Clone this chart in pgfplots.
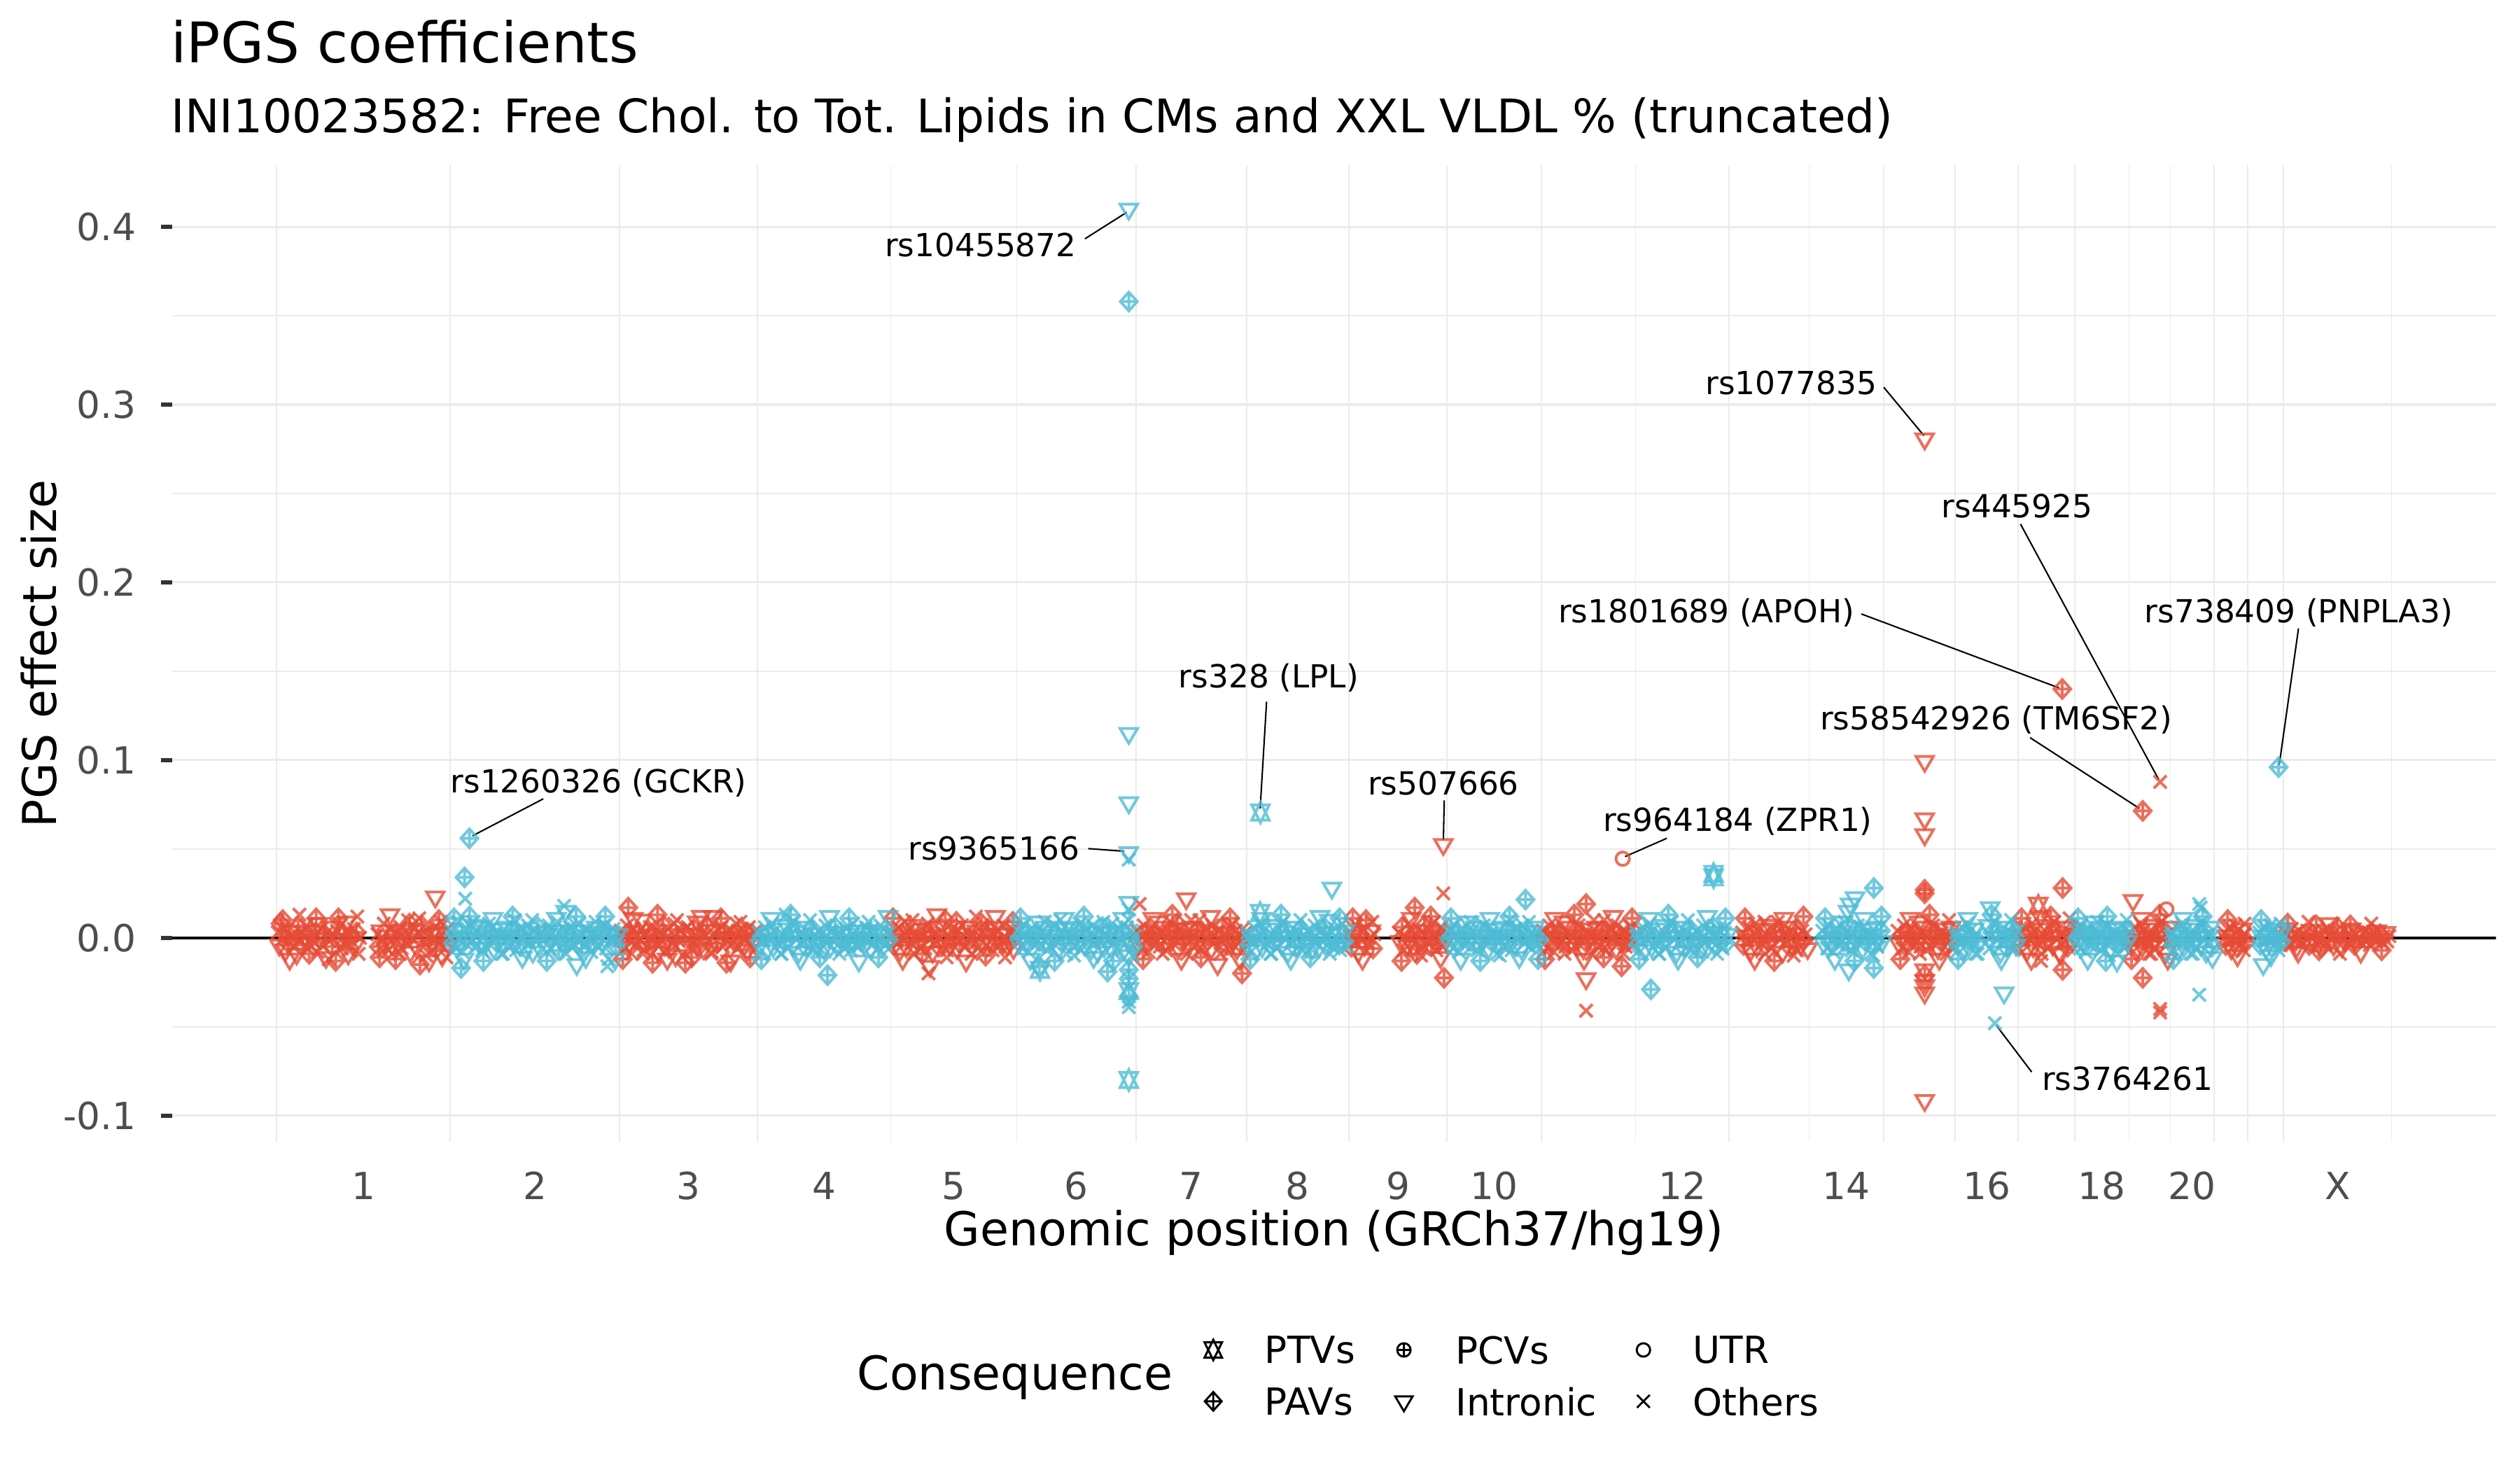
\documentclass[border=0pt]{standalone}
\usepackage{fontspec}
\setmainfont{DejaVu Sans}
\usepackage{pgfplots}
\pgfplotsset{compat=1.18}
\definecolor{nred}{HTML}{E64B35}
\definecolor{ncyan}{HTML}{4DBBD5}
\definecolor{gridc}{HTML}{EBEBEB}
\definecolor{tickc}{HTML}{4D4D4D}
\definecolor{tickmk}{HTML}{333333}
% ggplot-like shapes
\pgfdeclareplotmark{ptv}{%
  \pgfpathmoveto{\pgfqpoint{0bp}{-3.5bp}}\pgfpathlineto{\pgfqpoint{3.0bp}{2.6bp}}\pgfpathlineto{\pgfqpoint{-3.0bp}{2.6bp}}\pgfpathclose
  \pgfpathmoveto{\pgfqpoint{0bp}{3.5bp}}\pgfpathlineto{\pgfqpoint{3.0bp}{-2.6bp}}\pgfpathlineto{\pgfqpoint{-3.0bp}{-2.6bp}}\pgfpathclose
  \pgfusepathqstroke}
\pgfdeclareplotmark{pav}{%
  \pgfpathmoveto{\pgfqpoint{0bp}{3.2bp}}\pgfpathlineto{\pgfqpoint{2.9bp}{0bp}}\pgfpathlineto{\pgfqpoint{0bp}{-3.2bp}}\pgfpathlineto{\pgfqpoint{-2.9bp}{0bp}}\pgfpathclose
  \pgfpathmoveto{\pgfqpoint{0bp}{3.2bp}}\pgfpathlineto{\pgfqpoint{0bp}{-3.2bp}}
  \pgfpathmoveto{\pgfqpoint{-2.9bp}{0bp}}\pgfpathlineto{\pgfqpoint{2.9bp}{0bp}}
  \pgfusepathqstroke}
\pgfdeclareplotmark{pcv}{%
  \pgfpathcircle{\pgfpointorigin}{2.3bp}
  \pgfpathmoveto{\pgfqpoint{0bp}{2.3bp}}\pgfpathlineto{\pgfqpoint{0bp}{-2.3bp}}
  \pgfpathmoveto{\pgfqpoint{-2.3bp}{0bp}}\pgfpathlineto{\pgfqpoint{2.3bp}{0bp}}
  \pgfusepathqstroke}
\pgfdeclareplotmark{intr}{%
  \pgfpathmoveto{\pgfqpoint{0bp}{-3.4bp}}\pgfpathlineto{\pgfqpoint{3.0bp}{1.7bp}}\pgfpathlineto{\pgfqpoint{-3.0bp}{1.7bp}}\pgfpathclose
  \pgfusepathqstroke}
\pgfdeclareplotmark{utr}{%
  \pgfpathcircle{\pgfpointorigin}{2.3bp}\pgfusepathqstroke}
\pgfdeclareplotmark{oth}{%
  \pgfpathmoveto{\pgfqpoint{-2.2bp}{-2.2bp}}\pgfpathlineto{\pgfqpoint{2.2bp}{2.2bp}}
  \pgfpathmoveto{\pgfqpoint{-2.2bp}{2.2bp}}\pgfpathlineto{\pgfqpoint{2.2bp}{-2.2bp}}
  \pgfusepathqstroke}
\pgfplotsset{
  snp/.style={only marks, scatter, point meta=explicit symbolic,
    scatter/classes={t={mark=ptv},a={mark=pav},c={mark=pcv},i={mark=intr},u={mark=utr},o={mark=oth}},
    mark options={line width=0.95bp, draw opacity=0.8}, forget plot},
}
\newcommand\annfont{\fontsize{10.9bp}{13bp}\selectfont}
\begin{document}
\begin{tikzpicture}
\path[use as bounding box] (0,0) rectangle (864bp,504bp);
\begin{axis}[
  at={(58.96bp,112.5bp)}, anchor=south west,
  scale only axis, width=796.78bp, height=334.74bp,
  xmin=-150, xmax=3186, ymin=-0.1148, ymax=0.4345,
  axis line style={draw=none},
  tick pos=left, tick align=outside,
  xtick={124.65,370.9,591.5,786.1,972.15,1148.15,1313.25,1466.0,1609.8,1748.15,2017.85,2253.65,2455.0,2620.45,2750.1,2958.65},
  xticklabels={1,2,3,4,5,6,7,8,9,10,12,14,16,18,20,X},
  minor xtick={0,249.3,492.5,690.5,881.7,1062.6,1233.7,1392.8,1539.2,1680.4,1815.9,1950.9,2084.8,2200.0,2307.3,2409.8,2500.2,2581.4,2659.5,2718.6,2781.6,2829.7,2881.0,3036.3},
  xminorgrids, xmajorgrids=false,
  ytick={-0.1,0,0.1,0.2,0.3,0.4},
  yticklabels={-0.1,0.0,0.1,0.2,0.3,0.4},
  minor ytick={-0.05,0.05,0.15,0.25,0.35},
  ymajorgrids, yminorgrids,
  major grid style={draw=gridc, line width=0.75bp},
  minor grid style={draw=gridc, line width=0.4bp},
  xtick style={draw=none},
  ytick style={draw=tickmk, line width=1.4bp},
  major tick length=3.7bp, minor tick length=0pt,
  /pgf/number format/assume math mode=true,
  xticklabel style={font=\fontsize{12.8bp}{15bp}\selectfont, text=tickc, anchor=north, inner sep=0pt, yshift=-6.4bp},
  yticklabel style={font=\fontsize{12.8bp}{15bp}\selectfont, text=tickc, anchor=east, inner sep=0pt, xshift=-8.4bp},
  legend image code/.code={\draw[#1] plot coordinates {(0bp,0bp)};},
  legend columns=3, legend cell align=left,
  legend style={at={(0.4443,-0.2396)}, anchor=west, draw=none, fill=none,
    inner sep=0pt, outer sep=0pt, font=\fontsize{12.8bp}{15bp}\selectfont,
    nodes={inner sep=0pt, text depth=0pt}, row sep=8bp,
    /tikz/every odd column/.append style={column sep=14.7bp},
    /tikz/every even column/.append style={column sep=13.7bp}},
]
\addplot[black, line width=1bp, forget plot] coordinates {(-150,0) (3186,0)};
% odd chromosomes and X
\addplot[snp, color=nred] table[row sep=\\, x=x, y=y, meta=s] {
x y s\\
2 0.003 o\\ 4 -0.004 i\\ 6 0.008 a\\ 8 -0.001 o\\ 11 0.002 o\\ 13 -0.007 i\\ 15 0.005 o\\ 17 -0.003 a\\ 20 0.001 o\\ 22 0.004 i\\
24 -0.005 o\\ 27 0.000 o\\ 29 -0.009 i\\ 31 0.006 a\\ 34 -0.002 o\\ 36 0.003 o\\ 38 -0.004 a\\ 41 0.001 i\\ 43 0.007 o\\ 45 -0.006 o\\
48 0.002 a\\ 50 -0.001 o\\ 52 0.004 i\\ 55 -0.003 o\\ 57 0.011 a\\ 59 -0.008 o\\ 62 0.000 i\\ 64 0.005 o\\ 66 -0.004 o\\ 69 0.002 a\\
71 -0.011 i\\ 73 0.003 o\\ 76 -0.002 o\\ 78 0.006 i\\ 80 -0.005 a\\ 83 0.001 o\\ 85 -0.013 a\\ 87 0.004 o\\ 90 -0.001 i\\ 92 0.007 o\\
94 -0.006 o\\ 97 0.002 a\\ 99 -0.003 o\\ 101 0.009 i\\ 104 -0.007 o\\ 106 0.001 a\\ 108 -0.002 o\\ 111 0.005 o\\ 113 -0.004 i\\ 115 0.003 a\\
118 -0.009 o\\ 120 0.000 o\\ 145 0.002 o\\ 147 -0.005 a\\ 150 0.004 i\\ 152 -0.001 o\\ 154 0.008 o\\ 157 -0.003 a\\ 159 0.001 i\\ 161 -0.007 o\\
164 0.005 o\\ 166 -0.004 i\\ 168 0.002 a\\ 171 -0.012 a\\ 173 0.003 o\\ 175 -0.002 i\\ 178 0.006 o\\ 180 -0.006 o\\ 182 0.000 a\\ 185 0.004 i\\
187 -0.003 o\\ 189 0.010 o\\ 192 -0.008 i\\ 194 0.002 a\\ 196 -0.001 o\\ 199 0.005 o\\ 201 -0.005 i\\ 203 0.003 o\\ 206 -0.015 a\\ 208 0.007 a\\
210 -0.002 o\\ 213 0.001 i\\ 215 -0.010 o\\ 217 0.004 o\\ 220 -0.004 a\\ 222 0.002 i\\ 224 -0.001 o\\ 227 0.006 o\\ 228 0.023 i\\ 229 -0.006 a\\
231 0.003 i\\ 234 -0.003 o\\ 236 0.009 o\\ 238 -0.010 i\\ 241 0.001 a\\ 243 -0.002 o\\ 245 0.005 o\\ 247 -0.004 i\\
494 0.004 o\\ 496 -0.002 a\\ 499 0.001 i\\ 501 -0.006 o\\ 503 0.007 o\\ 505 0.017 a\\ 506 -0.003 i\\ 508 0.002 a\\ 510 -0.009 o\\ 513 0.005 o\\
515 0.000 i\\ 517 -0.004 o\\ 520 0.003 a\\ 522 -0.001 o\\ 524 0.010 i\\ 527 -0.007 o\\ 529 0.002 o\\ 531 -0.003 a\\ 534 0.004 a\\ 536 0.006 o\\
538 -0.005 i\\ 540 -0.014 a\\ 541 0.001 o\\ 543 -0.002 a\\ 545 0.004 o\\ 548 -0.008 i\\ 550 0.003 o\\ 552 -0.001 o\\ 555 0.007 a\\ 557 -0.004 i\\
559 0.000 o\\ 562 0.005 o\\ 564 -0.006 a\\ 566 0.002 i\\ 569 -0.003 o\\ 571 0.008 o\\ 573 -0.010 i\\ 576 0.001 a\\ 578 -0.002 o\\ 580 0.004 o\\
583 -0.005 i\\ 585 0.003 a\\ 587 -0.014 a\\ 590 0.006 o\\ 592 -0.001 o\\ 594 0.002 i\\ 597 -0.007 o\\ 599 0.005 a\\ 601 -0.003 o\\ 604 0.009 i\\
606 0.000 o\\ 608 -0.004 a\\ 611 0.003 o\\ 613 -0.006 i\\ 615 0.001 o\\ 618 0.007 a\\ 620 -0.002 o\\ 622 0.004 i\\ 625 -0.008 o\\ 627 0.012 i\\
629 0.002 o\\ 632 -0.003 a\\ 634 0.005 o\\ 636 -0.001 i\\ 639 0.006 o\\ 641 -0.005 o\\ 643 0.003 a\\ 646 -0.014 a\\ 648 0.000 i\\ 650 0.004 o\\
653 -0.004 o\\ 655 0.002 a\\ 657 -0.002 i\\ 660 0.008 o\\ 662 -0.006 o\\ 664 0.001 a\\ 667 -0.003 i\\ 669 0.005 o\\ 671 -0.001 o\\ 674 0.003 a\\
676 -0.007 i\\ 678 0.006 o\\ 681 -0.004 o\\ 683 0.002 a\\ 685 -0.002 i\\ 688 0.004 o\\
883 0.003 o\\ 886 -0.004 a\\ 888 0.001 i\\ 890 -0.002 o\\ 893 0.006 o\\ 895 -0.007 i\\ 897 0.002 a\\ 900 -0.001 o\\ 902 0.009 o\\ 904 -0.005 i\\
907 0.004 o\\ 909 0.000 a\\ 911 -0.003 o\\ 914 0.007 i\\ 916 -0.009 o\\ 918 0.002 o\\ 921 -0.002 a\\ 923 0.005 i\\ 925 -0.006 o\\ 928 0.001 o\\
930 0.003 a\\ 932 -0.004 i\\ 935 0.008 o\\ 936 -0.020 o\\ 937 -0.001 o\\ 938 -0.016 i\\ 939 0.004 a\\ 942 -0.008 i\\ 944 0.002 o\\ 946 -0.003 o\\
949 0.006 i\\ 951 -0.005 a\\ 953 0.000 o\\ 956 0.003 o\\ 958 -0.002 i\\ 960 0.010 a\\ 963 -0.007 o\\ 965 0.001 o\\ 967 -0.004 i\\ 970 0.005 o\\
972 -0.001 a\\ 974 0.002 o\\ 977 -0.006 i\\ 979 0.004 o\\ 981 -0.003 a\\ 984 0.007 o\\ 986 0.000 i\\ 988 -0.005 o\\ 991 0.003 o\\ 993 -0.002 a\\
995 0.006 i\\ 998 -0.009 o\\ 1000 0.002 o\\ 1002 -0.001 a\\ 1005 0.004 i\\ 1007 -0.006 o\\ 1009 0.001 o\\ 1012 0.008 a\\ 1014 -0.003 i\\ 1016 0.002 o\\
1019 -0.004 o\\ 1021 0.005 a\\ 1023 -0.002 i\\ 1026 0.003 o\\ 1028 -0.007 o\\ 1030 0.006 i\\ 1033 -0.001 a\\ 1035 0.004 o\\ 1037 -0.005 o\\ 1040 0.002 i\\
1042 -0.003 a\\ 1044 0.007 o\\ 1047 0.000 o\\ 1049 -0.004 i\\ 1051 0.003 o\\ 1054 -0.002 a\\ 1056 0.005 o\\ 1058 -0.006 i\\ 1060 0.001 o\\
1235 0.004 o\\ 1237 -0.003 i\\ 1239 0.019 o\\ 1240 0.001 a\\ 1242 -0.006 o\\ 1245 0.007 o\\ 1247 -0.002 i\\ 1249 0.003 a\\ 1252 -0.008 o\\ 1254 0.005 o\\
1256 0.000 i\\ 1259 -0.004 o\\ 1261 0.002 a\\ 1263 -0.001 o\\ 1266 0.009 i\\ 1268 -0.005 o\\ 1270 0.003 o\\ 1273 -0.003 a\\ 1275 0.006 i\\ 1277 -0.007 o\\
1280 0.001 o\\ 1282 0.004 a\\ 1284 -0.002 i\\ 1287 0.004 i\\ 1288 0.002 o\\ 1290 -0.004 o\\ 1293 0.008 a\\ 1295 -0.006 i\\ 1297 0.000 o\\ 1300 0.003 o\\
1302 -0.001 a\\ 1304 0.005 i\\ 1306 0.022 i\\ 1307 -0.009 o\\ 1309 0.002 o\\ 1311 -0.003 a\\ 1314 0.006 i\\ 1316 -0.005 o\\ 1318 0.001 o\\ 1321 0.004 a\\
1323 -0.002 i\\ 1325 0.010 o\\ 1328 -0.007 o\\ 1330 0.002 a\\ 1332 -0.004 i\\ 1335 0.005 o\\ 1337 -0.001 o\\ 1339 0.003 a\\ 1342 -0.006 i\\ 1344 0.007 o\\
1346 -0.003 o\\ 1349 0.001 a\\ 1351 -0.015 i\\ 1353 0.004 o\\ 1356 -0.002 o\\ 1358 0.006 a\\ 1360 -0.005 i\\ 1363 0.002 o\\ 1365 -0.004 a\\ 1367 0.003 o\\
1370 -0.004 i\\ 1372 0.008 o\\ 1374 -0.001 a\\ 1377 0.004 o\\ 1379 -0.006 i\\ 1381 0.002 o\\ 1384 -0.003 a\\ 1386 -0.020 a\\ 1387 0.005 o\\ 1389 -0.002 i\\ 1391 0.003 o\\
1541 0.003 o\\ 1543 -0.005 a\\ 1546 0.001 i\\ 1548 -0.002 o\\ 1550 0.007 o\\ 1553 -0.008 i\\ 1555 0.002 a\\ 1557 -0.001 o\\ 1560 0.005 o\\ 1562 -0.004 i\\
1564 0.010 a\\ 1567 -0.003 o\\ 1569 0.000 o\\ 1571 0.004 i\\ 1574 -0.006 a\\ 1576 0.002 o\\ 1611 0.003 o\\ 1613 -0.002 i\\ 1616 0.006 a\\ 1618 -0.007 o\\
1620 0.001 o\\ 1623 -0.004 i\\ 1625 0.008 o\\ 1627 -0.001 a\\ 1630 0.004 o\\ 1632 -0.005 i\\ 1634 0.017 a\\ 1635 0.002 o\\ 1637 -0.009 a\\ 1639 0.005 o\\
1641 -0.002 i\\ 1644 0.003 o\\ 1646 -0.006 o\\ 1648 0.007 a\\ 1651 0.000 i\\ 1653 -0.003 o\\ 1655 0.004 o\\ 1658 -0.004 a\\ 1660 0.001 i\\ 1662 0.009 o\\
1665 -0.007 o\\ 1667 0.002 a\\ 1669 -0.002 i\\ 1672 0.006 o\\ 1674 -0.005 o\\ 1675 0.0525 i\\ 1675 0.025 o\\ 1676 -0.0225 a\\ 1677 0.003 a\\ 1679 -0.001 i\\
1818 0.004 o\\ 1820 -0.003 i\\ 1822 0.001 a\\ 1825 -0.006 o\\ 1827 0.007 o\\ 1829 -0.002 i\\ 1832 0.003 a\\ 1834 -0.008 o\\ 1836 0.005 o\\ 1839 0.000 i\\
1841 -0.004 o\\ 1843 0.002 a\\ 1846 -0.001 o\\ 1848 0.009 i\\ 1850 -0.005 o\\ 1853 0.003 o\\ 1855 -0.003 a\\ 1857 0.006 i\\ 1860 -0.007 o\\ 1862 0.001 o\\
1864 0.004 a\\ 1867 -0.002 i\\ 1869 0.007 o\\ 1871 -0.004 o\\ 1874 0.002 a\\ 1876 -0.006 i\\ 1878 0.000 o\\ 1880 0.019 a\\ 1880 -0.023 i\\ 1880 -0.041 o\\
1881 0.003 o\\ 1883 -0.001 a\\ 1885 0.005 i\\ 1888 -0.009 o\\ 1890 0.002 o\\ 1892 -0.003 a\\ 1895 0.006 i\\ 1897 -0.005 o\\ 1899 0.001 o\\ 1902 0.004 a\\
1904 -0.002 i\\ 1906 0.010 o\\ 1909 -0.007 o\\ 1911 0.002 a\\ 1913 -0.004 i\\ 1916 0.005 o\\ 1918 -0.001 o\\ 1920 0.003 a\\ 1923 -0.006 i\\ 1925 0.007 o\\
1927 -0.003 o\\ 1930 0.001 a\\ 1931 -0.016 a\\ 1932.5 0.0445 u\\ 1933 -0.002 i\\ 1935 0.004 o\\ 1937 -0.005 o\\ 1940 0.002 a\\ 1942 -0.001 i\\ 1944 0.006 o\\
1947 -0.004 o\\ 1949 0.003 a\\
2104 0.003 o\\ 2106 -0.004 a\\ 2109 0.001 i\\ 2111 -0.002 o\\ 2113 0.006 o\\ 2116 -0.007 i\\ 2118 0.002 a\\ 2120 -0.001 o\\ 2123 0.008 o\\ 2125 -0.005 i\\
2127 0.004 o\\ 2130 0.000 a\\ 2132 -0.003 o\\ 2134 0.005 i\\ 2137 -0.009 o\\ 2139 0.002 o\\ 2141 -0.002 a\\ 2144 0.007 i\\ 2146 -0.006 o\\ 2148 0.001 o\\
2151 0.003 a\\ 2153 -0.004 i\\ 2155 0.009 o\\ 2158 -0.001 o\\ 2160 0.004 a\\ 2162 -0.008 i\\ 2165 0.002 o\\ 2167 -0.003 o\\ 2169 0.006 i\\ 2172 -0.005 a\\
2174 0.000 o\\ 2176 0.003 o\\ 2179 -0.002 i\\ 2181 0.005 a\\ 2183 -0.007 o\\ 2186 0.001 o\\ 2188 -0.004 i\\ 2190 0.004 o\\ 2193 -0.001 a\\ 2195 0.002 o\\ 2198 -0.006 i\\
2327 0.004 o\\ 2329 -0.003 i\\ 2332 0.001 a\\ 2334 -0.006 o\\ 2336 0.007 o\\ 2339 -0.002 i\\ 2341 0.003 a\\ 2343 -0.008 o\\ 2346 0.005 o\\ 2348 0.000 i\\
2350 -0.004 o\\ 2353 0.002 a\\ 2355 -0.001 o\\ 2358 0.009 i\\ 2360 -0.005 o\\ 2362 0.003 o\\ 2364 -0.003 a\\ 2366 0.2807 i\\ 2366 0.0993 i\\ 2366 0.067 i\\
2366 0.058 i\\ 2366 0.027 a\\ 2366 0.025 a\\ 2366 -0.018 i\\ 2366 -0.021 a\\ 2366 -0.024 i\\ 2366 -0.027 i\\ 2366 -0.031 i\\ 2366 -0.0915 i\\ 2367 0.006 i\\
2369 -0.007 o\\ 2371 0.001 o\\ 2374 0.004 a\\ 2376 -0.002 i\\ 2378 0.007 o\\ 2381 -0.004 o\\ 2383 0.002 a\\ 2385 -0.006 i\\ 2388 0.000 o\\ 2390 0.003 o\\
2392 -0.001 a\\ 2395 0.005 i\\ 2397 -0.009 o\\ 2399 0.002 o\\ 2402 -0.003 a\\ 2404 0.006 i\\ 2406 -0.005 o\\ 2408 0.001 o\\
2501 0.003 o\\ 2503 -0.004 a\\ 2506 0.001 i\\ 2508 -0.002 o\\ 2510 0.006 o\\ 2513 -0.007 i\\ 2515 0.002 a\\ 2517 -0.001 o\\ 2520 0.008 o\\ 2522 -0.005 i\\
2524 0.004 o\\ 2527 0.000 a\\ 2529 0.018 t\\ 2529 -0.003 o\\ 2531 0.005 i\\ 2532 0.012 i\\ 2534 -0.009 o\\ 2536 0.002 o\\ 2538 -0.002 a\\ 2541 0.007 i\\
2543 -0.006 o\\ 2545 0.001 o\\ 2548 0.003 a\\ 2550 -0.004 i\\ 2552 0.009 o\\ 2555 -0.001 o\\ 2557 0.004 a\\ 2559 -0.008 i\\ 2562 0.002 o\\ 2563.5 0.140 a\\
2564 0.028 a\\ 2564 -0.018 a\\ 2566 -0.003 o\\ 2568 0.006 i\\ 2571 -0.005 a\\ 2573 0.000 o\\ 2575 0.003 o\\ 2578 -0.002 i\\ 2580 0.005 a\\
2660 0.003 o\\ 2662 -0.004 a\\ 2664 0.001 i\\ 2665 0.021 i\\ 2666 -0.002 o\\ 2668 0.006 o\\ 2670 -0.007 i\\ 2672 0.002 a\\ 2674 -0.001 o\\ 2676 0.008 o\\
2678 -0.005 i\\ 2679 0.0714 a\\ 2679 -0.0225 a\\ 2680 0.004 o\\ 2682 0.000 a\\ 2684 -0.003 o\\ 2686 0.005 i\\ 2688 -0.009 o\\ 2690 0.002 o\\ 2692 -0.002 a\\
2694 0.007 i\\ 2696 -0.006 o\\ 2698 0.001 o\\ 2700 0.003 a\\ 2702 -0.004 i\\ 2704 0.0877 o\\ 2704 -0.040 o\\ 2704 -0.042 o\\ 2706 0.009 o\\ 2708 -0.001 o\\
2710 0.004 a\\ 2712 -0.008 i\\ 2713 0.016 u\\ 2714 0.002 o\\ 2716 -0.003 o\\ 2717 0.006 i\\
2796 0.003 o\\ 2798 -0.004 a\\ 2800 0.001 i\\ 2802 -0.002 o\\ 2804 0.006 o\\ 2806 -0.006 i\\ 2808 0.002 a\\ 2810 -0.001 o\\ 2812 0.007 o\\ 2814 -0.005 i\\
2816 0.004 o\\ 2818 0.000 a\\ 2820 -0.003 o\\ 2822 0.005 i\\ 2824 -0.007 o\\ 2826 0.002 o\\ 2828 -0.002 a\\
2883 0.003 o\\ 2885 -0.002 a\\ 2888 0.001 i\\ 2890 -0.004 o\\ 2893 0.005 o\\ 2895 -0.001 a\\ 2898 0.002 o\\ 2900 -0.005 i\\ 2903 0.004 o\\ 2905 0.000 a\\
2908 -0.003 o\\ 2910 0.002 o\\ 2913 -0.001 i\\ 2915 0.004 o\\ 2918 -0.004 a\\ 2920 0.001 o\\ 2923 0.003 o\\ 2925 -0.002 i\\ 2928 0.007 a\\ 2930 -0.001 o\\
2933 0.002 o\\ 2935 -0.005 a\\ 2938 0.004 o\\ 2940 0.000 i\\ 2943 -0.003 o\\ 2945 0.005 o\\ 2948 -0.002 a\\ 2950 0.001 o\\ 2953 -0.004 i\\ 2955 0.003 o\\
2958 0.006 a\\ 2960 -0.001 o\\ 2963 0.002 o\\ 2965 -0.005 i\\ 2968 0.004 o\\ 2970 -0.002 a\\ 2973 0.001 o\\ 2975 -0.003 o\\ 2978 0.005 i\\ 2980 0.000 o\\
2983 -0.004 a\\ 2985 0.002 o\\ 2988 -0.001 o\\ 2990 0.003 i\\ 2993 -0.003 o\\ 2995 0.001 a\\ 2998 0.004 o\\ 3000 -0.002 o\\ 3003 0.002 i\\ 3005 -0.004 o\\
3008 0.003 a\\ 3010 0.000 o\\ 3013 -0.002 o\\ 3015 0.004 i\\ 3018 -0.001 o\\ 3020 0.002 a\\ 3023 -0.003 o\\ 3025 0.001 o\\ 3028 0.003 i\\ 3030 -0.002 o\\ 3033 0.001 o\\
9 0.010 a\\ 19 -0.012 i\\ 33 0.013 o\\ 47 -0.009 a\\ 60 0.008 i\\ 75 -0.012 o\\ 89 0.011 a\\ 103 -0.009 i\\ 116 0.012 o\\ 148 -0.011 a\\
163 0.013 i\\ 177 -0.009 o\\ 191 0.008 a\\ 205 0.011 o\\ 219 -0.013 i\\ 233 0.010 a\\ 244 -0.011 o\\
497 -0.012 a\\ 512 0.011 i\\ 526 -0.009 o\\ 547 0.013 a\\ 561 -0.012 i\\ 575 0.010 o\\ 596 -0.011 a\\ 610 0.012 i\\ 624 -0.009 o\\ 638 0.011 a\\
652 -0.013 i\\ 666 0.009 o\\ 680 -0.011 a\\
885 0.011 a\\ 899 -0.012 i\\ 913 0.010 o\\ 927 -0.009 a\\ 948 0.013 i\\ 962 -0.011 o\\ 976 0.009 a\\ 990 -0.013 i\\ 1004 0.012 o\\ 1018 -0.010 a\\
1032 0.012 i\\ 1046 -0.011 o\\ 1057 0.009 a\\
1244 -0.012 a\\ 1258 0.011 i\\ 1272 -0.009 o\\ 1286 0.013 a\\ 1299 -0.012 i\\ 1313 0.010 o\\ 1327 -0.011 a\\ 1341 0.012 i\\ 1355 -0.009 o\\ 1369 0.011 a\\ 1383 -0.012 i\\
1545 0.011 a\\ 1559 -0.012 i\\ 1573 0.009 o\\ 1615 -0.013 a\\ 1629 0.011 i\\ 1643 -0.010 o\\ 1657 0.012 a\\ 1671 -0.011 i\\
1821 -0.012 a\\ 1835 0.011 i\\ 1849 -0.009 o\\ 1863 0.013 a\\ 1877 -0.012 i\\ 1891 0.010 o\\ 1905 -0.011 a\\ 1919 0.012 i\\ 1934 -0.009 o\\ 1946 0.011 a\\
2108 0.011 a\\ 2122 -0.012 i\\ 2136 0.009 o\\ 2150 -0.013 a\\ 2164 0.011 i\\ 2178 -0.010 o\\ 2192 0.012 a\\
2331 -0.012 a\\ 2345 0.011 i\\ 2359 -0.009 o\\ 2373 0.013 a\\ 2387 -0.012 i\\ 2401 0.010 o\\
2505 0.011 a\\ 2519 -0.012 i\\ 2533 -0.013 o\\ 2547 0.012 a\\ 2561 -0.009 i\\ 2574 0.011 o\\
2663 -0.012 a\\ 2677 0.011 i\\ 2691 -0.009 o\\ 2703 0.013 a\\ 2715 -0.012 i\\
2801 0.010 a\\ 2815 -0.010 i\\ 2825 0.008 o\\
2887 0.008 a\\ 2902 -0.008 i\\ 2917 0.009 o\\ 2932 -0.007 a\\ 2947 0.008 i\\ 2962 -0.009 o\\ 2977 0.007 a\\ 2992 -0.008 i\\ 3007 0.008 o\\ 3022 -0.007 a\\
};
% even chromosomes
\addplot[snp, color=ncyan] table[row sep=\\, x=x, y=y, meta=s] {
x y s\\
251 0.004 o\\ 253 -0.003 a\\ 256 0.001 i\\ 258 -0.006 o\\ 260 0.009 o\\ 263 -0.002 i\\ 265 -0.017 a\\ 266 0.003 a\\ 267 -0.008 o\\ 270 0.034 a\\
270 0.005 o\\ 271 0.022 o\\ 272 0.000 i\\ 274 -0.004 o\\ 277 0.056 a\\ 277 0.012 a\\ 279 0.002 a\\ 281 -0.001 o\\ 284 0.007 i\\ 286 -0.005 o\\
288 0.003 o\\ 291 -0.003 a\\ 293 0.006 i\\ 295 -0.007 o\\ 298 0.001 o\\ 300 0.004 a\\ 302 -0.002 i\\ 305 0.008 o\\ 307 -0.004 o\\ 309 0.002 a\\
312 -0.006 i\\ 314 0.000 o\\ 316 0.003 o\\ 319 -0.001 a\\ 321 0.005 i\\ 323 -0.009 o\\ 326 0.002 o\\ 328 -0.003 a\\ 330 0.006 i\\ 333 -0.005 o\\
335 0.001 o\\ 337 0.004 a\\ 340 -0.002 i\\ 342 0.010 o\\ 344 -0.007 o\\ 347 0.002 a\\ 349 -0.004 i\\ 351 0.005 o\\ 354 -0.001 o\\ 356 0.003 a\\
358 -0.006 i\\ 361 0.007 o\\ 363 -0.003 o\\ 365 0.001 a\\ 368 -0.008 i\\ 370 0.004 o\\ 372 -0.002 o\\ 375 0.006 a\\ 377 -0.005 i\\ 379 0.002 o\\
381 0.003 o\\ 384 -0.001 o\\ 386 0.003 a\\ 389 -0.004 i\\ 391 0.007 o\\ 393 -0.006 o\\ 396 0.001 a\\ 398 0.004 i\\ 400 -0.002 o\\ 403 0.009 o\\
405 -0.007 a\\ 407 0.002 i\\ 410 -0.003 i\\ 412 0.005 o\\ 413 0.018 o\\ 414 -0.003 o\\ 415 0.015 i\\ 417 0.003 a\\ 419 -0.001 i\\ 421 0.006 o\\
424 -0.005 o\\ 426 0.002 a\\ 428 -0.004 o\\ 431 -0.015 i\\ 432 0.004 i\\ 433 -0.002 o\\ 435 0.008 o\\ 438 -0.006 a\\ 440 0.001 i\\ 442 -0.004 o\\
445 0.005 o\\ 447 -0.001 a\\ 449 0.003 i\\ 452 -0.008 o\\ 454 0.002 o\\ 456 -0.003 a\\ 459 0.006 i\\ 461 -0.005 o\\ 463 0.001 o\\ 466 0.004 a\\
468 -0.002 i\\ 470 0.007 o\\ 473 -0.006 o\\ 475 -0.016 o\\ 476 0.002 a\\ 477 -0.012 o\\ 480 0.003 i\\ 482 -0.001 o\\ 484 0.005 o\\ 487 -0.004 a\\
489 0.002 i\\ 491 -0.002 o\\
692 0.003 o\\ 694 -0.004 i\\ 697 0.001 a\\ 699 -0.002 o\\ 701 0.006 o\\ 704 -0.007 i\\ 706 0.002 a\\ 708 -0.001 o\\ 711 0.008 o\\ 713 -0.005 i\\
715 0.004 o\\ 718 0.000 a\\ 720 -0.003 o\\ 722 0.005 i\\ 725 -0.009 o\\ 727 0.002 o\\ 729 -0.002 a\\ 731 0.013 o\\ 732 0.007 i\\ 734 -0.006 o\\
736 0.001 o\\ 739 0.003 a\\ 741 -0.004 i\\ 743 0.009 o\\ 746 -0.001 o\\ 748 0.004 a\\ 750 -0.008 i\\ 753 0.002 o\\ 755 -0.003 o\\ 757 0.006 i\\
760 -0.005 a\\ 762 0.000 o\\ 764 0.003 o\\ 767 -0.002 i\\ 769 0.005 a\\ 771 -0.007 o\\ 774 0.001 o\\ 776 -0.004 i\\ 778 0.004 o\\ 781 -0.001 a\\
783 0.002 o\\ 786 -0.006 i\\ 788 0.007 o\\ 790 -0.003 o\\ 791 -0.021 a\\ 793 0.002 a\\ 795 -0.005 i\\ 797 0.004 o\\ 800 -0.002 o\\ 802 0.006 a\\
804 -0.004 i\\ 807 0.001 o\\ 809 0.003 o\\ 811 -0.001 a\\ 814 0.003 i\\ 816 -0.006 o\\ 818 0.005 o\\ 821 -0.003 a\\ 823 0.002 i\\ 825 -0.007 o\\
828 0.008 o\\ 830 -0.002 a\\ 832 0.004 i\\ 835 -0.005 o\\ 837 0.000 o\\ 839 -0.002 a\\ 841 0.003 a\\ 844 -0.004 i\\ 846 0.006 o\\ 848 -0.001 o\\
851 0.002 a\\ 853 -0.006 i\\ 855 0.005 o\\ 858 -0.003 o\\ 860 0.001 a\\ 862 0.004 i\\ 865 -0.002 o\\ 867 0.007 o\\ 869 -0.005 a\\ 872 0.002 i\\
874 -0.004 o\\ 876 0.003 o\\ 879 -0.001 a\\
1064 0.004 o\\ 1066 -0.003 i\\ 1069 0.001 a\\ 1071 -0.006 o\\ 1073 0.007 o\\ 1076 -0.002 i\\ 1078 0.003 a\\ 1080 -0.008 o\\ 1083 0.005 o\\ 1085 0.000 i\\
1087 -0.004 o\\ 1090 0.002 a\\ 1092 -0.001 o\\ 1094 0.009 i\\ 1095 -0.016 a\\ 1096 -0.018 t\\ 1097 -0.005 o\\ 1099 0.003 o\\ 1101 -0.003 a\\ 1104 0.006 i\\
1106 -0.007 o\\ 1108 0.001 o\\ 1111 0.004 a\\ 1113 -0.002 i\\ 1116 0.007 o\\ 1118 -0.004 o\\ 1120 0.002 a\\ 1123 -0.006 i\\ 1125 0.010 o\\ 1127 0.003 o\\
1130 -0.001 a\\ 1132 0.005 i\\ 1134 -0.009 o\\ 1137 0.002 o\\ 1139 -0.003 a\\ 1141 0.006 i\\ 1144 -0.005 o\\ 1146 0.001 o\\ 1148 0.004 a\\ 1151 -0.002 i\\
1153 0.008 o\\ 1155 -0.007 o\\ 1158 0.002 a\\ 1160 -0.004 i\\ 1163 0.005 o\\ 1165 -0.001 o\\ 1167 0.003 a\\ 1170 -0.006 i\\ 1172 0.007 o\\ 1174 -0.003 o\\
1177 0.001 a\\ 1179 -0.008 i\\ 1181 0.004 o\\ 1184 -0.002 o\\ 1186 0.006 a\\ 1188 -0.005 i\\ 1191 0.002 o\\ 1193 -0.019 a\\ 1194 -0.001 o\\ 1195 0.003 a\\
1198 -0.006 i\\ 1200 0.008 o\\ 1202 -0.003 o\\ 1205 0.002 a\\ 1207 -0.004 i\\ 1209 0.005 o\\ 1212 -0.001 o\\ 1214 0.003 a\\ 1216 -0.007 i\\ 1219 0.001 o\\
1221 0.006 o\\ 1223.5 0.410 i\\ 1223.5 0.358 a\\ 1223.5 0.115 i\\ 1223.5 0.076 i\\ 1223.5 0.048 i\\ 1223.5 0.044 o\\ 1223.5 0.020 i\\ 1223.5 0.016 o\\ 1223.5 0.010 o\\
1223.5 -0.010 i\\ 1223.5 -0.018 a\\ 1223.5 -0.023 a\\ 1223.5 -0.030 t\\ 1223.5 -0.033 a\\ 1223.5 -0.036 o\\ 1223.5 -0.039 o\\ 1223.5 -0.080 t\\ 1225 -0.002 i\\ 1228 0.004 o\\
1230 -0.005 a\\ 1232 0.001 o\\
1394 0.003 o\\ 1396 -0.004 a\\ 1399 0.001 i\\ 1401 -0.002 o\\ 1403 0.006 o\\ 1406 -0.007 i\\ 1408 0.002 a\\ 1410 -0.001 o\\ 1412.5 0.0705 t\\ 1412 0.014 t\\
1413 0.008 o\\ 1415 -0.005 i\\ 1417 0.004 o\\ 1420 0.000 a\\ 1422 -0.003 o\\ 1424 0.005 i\\ 1427 -0.009 o\\ 1429 0.002 o\\ 1431 -0.002 a\\ 1434 0.007 i\\
1436 -0.006 o\\ 1438 0.001 o\\ 1441 0.003 a\\ 1443 -0.004 i\\ 1445 0.009 o\\ 1448 -0.001 o\\ 1450 0.004 a\\ 1452 -0.008 i\\ 1455 0.002 o\\ 1457 -0.003 o\\
1459 0.006 i\\ 1462 -0.005 a\\ 1464 0.000 o\\ 1466 0.003 o\\ 1469 -0.002 i\\ 1471 0.005 a\\ 1473 -0.007 o\\ 1476 0.001 o\\ 1478 -0.004 i\\ 1480 0.004 o\\
1483 -0.001 a\\ 1485 0.002 o\\ 1487 -0.006 i\\ 1490 0.007 o\\ 1492 -0.003 o\\ 1494 0.002 a\\ 1497 -0.005 i\\ 1499 0.004 o\\ 1501 -0.002 o\\ 1504 0.006 a\\
1506 -0.004 i\\ 1508 0.001 o\\ 1511 0.010 i\\ 1513 -0.001 a\\ 1515 0.028 i\\ 1516 0.003 i\\ 1518 -0.006 o\\ 1520 0.005 o\\ 1523 -0.003 a\\ 1525 0.002 i\\
1527 -0.007 o\\ 1530 0.008 o\\ 1532 -0.002 a\\ 1534 0.004 i\\ 1537 -0.005 o\\
1682 0.004 o\\ 1684 -0.003 i\\ 1687 0.001 a\\ 1689 -0.006 o\\ 1691 0.007 o\\ 1694 -0.002 i\\ 1696 0.003 a\\ 1698 -0.008 o\\ 1701 0.005 o\\ 1703 0.000 i\\
1705 -0.004 o\\ 1708 0.002 a\\ 1710 -0.001 o\\ 1712 0.009 i\\ 1715 -0.005 o\\ 1717 0.003 o\\ 1719 -0.003 a\\ 1722 0.006 i\\ 1724 -0.007 o\\ 1726 0.001 o\\
1729 0.004 a\\ 1731 -0.002 i\\ 1733 0.007 o\\ 1736 -0.004 o\\ 1738 0.002 a\\ 1740 -0.006 i\\ 1743 0.000 o\\ 1745 0.003 o\\ 1747 -0.001 a\\ 1750 0.005 i\\
1752 -0.009 o\\ 1754 0.002 o\\ 1757 -0.003 a\\ 1759 0.006 i\\ 1761 -0.005 o\\ 1764 0.001 o\\ 1766 0.004 a\\ 1768 -0.002 i\\ 1771 0.010 o\\ 1773 -0.007 o\\
1776 0.002 a\\ 1778 -0.004 i\\ 1780 0.005 o\\ 1782 -0.001 o\\ 1785 0.003 a\\ 1787 -0.006 i\\ 1789 0.007 o\\ 1792 -0.003 o\\ 1793 0.0215 a\\ 1794 0.001 a\\
1796 0.004 i\\ 1799 -0.005 o\\ 1801 0.002 o\\ 1803 -0.002 a\\ 1806 0.006 i\\ 1808 -0.004 o\\ 1810 0.003 o\\ 1813 -0.001 a\\
1952 0.003 o\\ 1954 -0.004 a\\ 1957 0.001 i\\ 1959 -0.002 o\\ 1961 0.006 o\\ 1964 -0.007 i\\ 1966 0.002 a\\ 1968 -0.001 o\\ 1971 0.008 o\\ 1973 -0.029 a\\
1974 -0.005 i\\ 1975 0.004 o\\ 1978 0.000 a\\ 1980 -0.003 o\\ 1982 0.005 i\\ 1985 -0.009 o\\ 1987 0.002 o\\ 1989 -0.002 a\\ 1992 0.007 i\\ 1994 -0.006 o\\
1996 0.001 o\\ 1999 0.003 a\\ 2001 -0.004 i\\ 2003 0.009 o\\ 2006 -0.001 o\\ 2008 0.004 a\\ 2010 -0.008 i\\ 2013 0.002 o\\ 2015 -0.003 o\\ 2017 0.006 i\\
2020 -0.005 a\\ 2022 0.000 o\\ 2024 0.003 o\\ 2027 -0.002 i\\ 2029 0.005 a\\ 2031 -0.007 o\\ 2034 0.001 o\\ 2036 -0.004 i\\ 2038 0.004 o\\ 2041 -0.001 a\\
2043 0.002 o\\ 2046 -0.006 i\\ 2048 0.007 o\\ 2050 -0.003 o\\ 2053 0.002 a\\ 2055 -0.005 i\\ 2057 0.004 o\\ 2060 -0.002 o\\ 2062 0.006 a\\ 2063 0.034 t\\
2063 0.036 t\\ 2064 -0.004 i\\ 2067 0.001 o\\ 2069 0.005 o\\ 2071 -0.001 a\\ 2074 0.003 i\\ 2076 -0.006 o\\ 2078 0.005 o\\ 2081 -0.003 a\\ 2083 0.002 i\\
2219 0.004 o\\ 2221 -0.003 i\\ 2224 0.001 a\\ 2226 -0.006 o\\ 2228 0.007 o\\ 2231 -0.002 i\\ 2233 0.003 a\\ 2235 -0.008 o\\ 2238 0.005 o\\ 2240 0.000 i\\
2242 -0.004 o\\ 2245 0.002 a\\ 2247 -0.001 o\\ 2249 0.009 i\\ 2252 -0.005 o\\ 2254 0.003 o\\ 2256 0.015 i\\ 2256 -0.003 a\\ 2257 -0.018 i\\ 2259 0.019 i\\
2259 0.006 i\\ 2261 -0.007 o\\ 2263 0.001 o\\ 2266 0.0226 i\\ 2266 0.004 a\\ 2268 -0.002 i\\ 2270 0.007 o\\ 2273 -0.004 o\\ 2275 0.002 a\\ 2277 -0.006 i\\
2280 0.000 o\\ 2282 0.003 o\\ 2284 -0.001 a\\ 2287 0.005 i\\ 2289 -0.009 o\\ 2291 0.002 o\\ 2293 0.028 a\\ 2293 -0.017 a\\ 2294 -0.003 a\\ 2296 0.006 i\\
2298 -0.005 o\\ 2301 0.001 o\\ 2303 0.004 a\\ 2305 -0.002 i\\
2411 0.003 o\\ 2413 -0.004 a\\ 2415 0.001 i\\ 2417 -0.002 o\\ 2419 0.006 o\\ 2421 -0.007 i\\ 2423 0.002 a\\ 2425 -0.001 o\\ 2427 0.008 o\\ 2429 -0.005 i\\
2431 0.004 o\\ 2433 0.000 a\\ 2435 -0.003 o\\ 2437 0.005 i\\ 2439 -0.009 o\\ 2441 0.002 o\\ 2443 -0.002 a\\ 2457 0.007 i\\ 2459 -0.006 o\\ 2460 0.017 i\\
2461 0.001 o\\ 2463 0.003 a\\ 2465 -0.004 i\\ 2466.8 -0.048 o\\ 2467 0.009 o\\ 2469 -0.001 o\\ 2471 0.004 a\\ 2475 -0.008 i\\ 2477 0.002 o\\ 2479 -0.003 o\\
2480 -0.031 i\\ 2481 0.006 i\\ 2483 -0.005 a\\ 2485 0.000 o\\ 2487 0.003 o\\ 2489 -0.002 i\\ 2491 0.005 a\\ 2493 -0.007 o\\ 2495 0.001 o\\ 2497 -0.004 i\\
2499 0.004 o\\
2583 0.004 o\\ 2585 -0.003 i\\ 2587 0.001 a\\ 2589 -0.006 o\\ 2591 0.007 o\\ 2593 -0.002 i\\ 2595 0.003 a\\ 2597 -0.008 o\\ 2599 0.005 o\\ 2601 0.000 i\\
2603 -0.004 o\\ 2605 0.002 a\\ 2607 -0.001 o\\ 2609 0.009 i\\ 2611 -0.005 o\\ 2613 0.003 o\\ 2615 -0.003 a\\ 2617 0.006 i\\ 2619 -0.007 o\\ 2621 0.001 o\\
2623 0.004 a\\ 2625 -0.002 i\\ 2626 -0.013 a\\ 2627 0.007 o\\ 2629 -0.004 o\\ 2631 0.002 a\\ 2633 -0.006 i\\ 2635 0.000 o\\ 2637 0.003 o\\ 2639 -0.001 a\\
2641 0.005 i\\ 2643 -0.009 o\\ 2645 0.002 o\\ 2647 -0.003 a\\ 2649 0.006 i\\ 2651 -0.005 o\\ 2653 0.001 o\\ 2655 0.004 a\\ 2657 -0.002 i\\
2720 0.003 o\\ 2722 -0.004 a\\ 2724 0.001 i\\ 2726 -0.002 o\\ 2728 0.006 o\\ 2730 -0.007 i\\ 2732 0.002 a\\ 2734 -0.001 o\\ 2736 0.008 o\\ 2738 -0.005 i\\
2740 0.004 o\\ 2742 0.000 a\\ 2744 -0.003 o\\ 2746 0.005 i\\ 2748 -0.009 o\\ 2750 0.002 o\\ 2752 -0.002 a\\ 2754 0.007 i\\ 2756 -0.006 o\\ 2758 0.001 o\\
2760 0.019 o\\ 2760 -0.032 o\\ 2760 0.003 a\\ 2762 0.017 o\\ 2762 -0.004 i\\ 2764 0.009 o\\ 2766 -0.001 o\\ 2768 0.004 a\\ 2770 -0.008 i\\ 2772 0.002 o\\
2774 -0.003 o\\ 2776 0.006 i\\ 2778 -0.005 a\\ 2780 0.001 o\\
2846 0.003 o\\ 2848 -0.004 a\\ 2850 0.001 i\\ 2852 -0.015 i\\ 2852 -0.002 o\\ 2854 0.006 o\\ 2856 -0.006 i\\ 2858 0.002 a\\ 2860 -0.001 o\\ 2862 0.007 o\\
2864 -0.005 i\\ 2866 0.004 o\\ 2868 0.000 a\\ 2870 -0.003 o\\ 2872 0.005 i\\ 2874 0.096 a\\ 2874 -0.007 o\\ 2876 0.002 o\\ 2878 -0.002 a\\ 2880 0.004 i\\
255 0.011 a\\ 269 -0.012 i\\ 283 0.009 o\\ 297 -0.013 a\\ 311 0.011 i\\ 325 -0.009 o\\ 339 0.012 a\\ 353 -0.011 i\\ 367 0.010 o\\ 388 -0.013 a\\
402 0.011 i\\ 416 -0.009 o\\ 430 0.012 a\\ 444 -0.011 i\\ 458 0.009 o\\ 472 0.012 a\\ 486 -0.012 i\\
696 -0.012 a\\ 710 0.011 i\\ 724 -0.009 o\\ 738 0.013 a\\ 752 -0.012 i\\ 766 0.010 o\\ 780 -0.011 a\\ 794 0.012 i\\ 808 -0.009 o\\ 822 0.011 a\\
836 -0.013 i\\ 850 0.009 o\\ 864 -0.011 a\\ 878 0.012 i\\
1068 0.011 a\\ 1082 -0.012 i\\ 1103 0.009 o\\ 1117 -0.013 a\\ 1131 0.011 i\\ 1145 -0.010 o\\ 1159 0.012 a\\ 1173 -0.011 i\\ 1187 0.009 o\\ 1201 -0.013 a\\
1215 0.011 i\\ 1229 -0.010 o\\
1398 -0.012 a\\ 1414 0.011 i\\ 1428 -0.009 o\\ 1442 0.013 a\\ 1456 -0.012 i\\ 1470 0.010 o\\ 1484 -0.011 a\\ 1498 0.012 i\\ 1512 -0.009 o\\ 1526 0.011 a\\
1686 0.011 a\\ 1700 -0.012 i\\ 1714 0.009 o\\ 1728 -0.013 a\\ 1742 0.011 i\\ 1756 -0.010 o\\ 1770 0.012 a\\ 1784 -0.011 i\\ 1798 0.009 o\\ 1811 -0.012 a\\
1956 -0.012 a\\ 1970 0.011 i\\ 1984 -0.009 o\\ 1998 0.013 a\\ 2012 -0.012 i\\ 2026 0.010 o\\ 2040 -0.011 a\\ 2054 0.012 i\\ 2068 -0.009 o\\ 2080 0.011 a\\
2223 0.011 a\\ 2237 -0.012 i\\ 2251 0.009 o\\ 2265 -0.013 a\\ 2279 0.011 i\\ 2292 -0.010 o\\ 2304 0.012 a\\
2414 -0.012 a\\ 2428 0.011 i\\ 2442 -0.009 o\\ 2462 0.013 a\\ 2476 -0.012 i\\ 2490 0.010 o\\
2586 0.011 a\\ 2600 -0.012 i\\ 2614 0.009 o\\ 2628 0.012 a\\ 2642 -0.013 i\\ 2656 0.010 o\\
2723 -0.012 a\\ 2737 0.011 i\\ 2751 -0.009 o\\ 2765 0.012 a\\ 2779 -0.011 i\\
2849 0.010 a\\ 2863 -0.010 i\\ 2877 0.008 o\\
};
% annotations (ggrepel-style labels)
\draw[black, line width=0.5bp] (axis cs:1160.6,0.3933) -- (axis cs:1220.6,0.4082);
\node[anchor=east, inner sep=0pt, font=\annfont] at (axis cs:1149.1,0.3897) {rs10455872};
\draw[black, line width=0.5bp] (axis cs:2307.3,0.3097) -- (axis cs:2365.0,0.2825);
\node[anchor=east, inner sep=0pt, font=\annfont] at (axis cs:2298.1,0.3124) {rs1077835};
\draw[black, line width=0.5bp] (axis cs:2503.5,0.2328) -- (axis cs:2701.9,0.0891);
\node[anchor=center, inner sep=0pt, font=\annfont] at (axis cs:2498.8,0.2428) {rs445925};
\draw[black, line width=0.5bp] (axis cs:2275.1,0.1822) -- (axis cs:2558.9,0.1406);
\node[anchor=east, inner sep=0pt, font=\annfont] at (axis cs:2265.8,0.1831) {rs1801689 (APOH)};
\draw[black, line width=0.5bp] (axis cs:2902.6,0.1741) -- (axis cs:2874.9,0.0972);
\node[anchor=west, inner sep=0pt, font=\annfont] at (axis cs:2681.1,0.1831) {rs738409 (PNPLA3)};
\draw[black, line width=0.5bp] (axis cs:2517.3,0.1126) -- (axis cs:2674.2,0.0728);
\node[anchor=west, inner sep=0pt, font=\annfont] at (axis cs:2215.0,0.1225) {rs58542926 (TM6SF2)};
\draw[black, line width=0.5bp] (axis cs:1421.3,0.1329) -- (axis cs:1412.1,0.0728);
\node[anchor=west, inner sep=0pt, font=\annfont] at (axis cs:1294.4,0.1463) {rs328 (LPL)};
\draw[black, line width=0.5bp] (axis cs:383.0,0.0782) -- (axis cs:281.5,0.0574);
\node[anchor=west, inner sep=0pt, font=\annfont] at (axis cs:249.2,0.0873) {rs1260326 (GCKR)};
\draw[black, line width=0.5bp] (axis cs:1676.3,0.0773) -- (axis cs:1675.1,0.0551);
\node[anchor=center, inner sep=0pt, font=\annfont] at (axis cs:1675.1,0.0868) {rs507666};
\draw[black, line width=0.5bp] (axis cs:1995.8,0.0560) -- (axis cs:1935.9,0.0457);
\node[anchor=west, inner sep=0pt, font=\annfont] at (axis cs:1903.6,0.0656) {rs964184 (ZPR1)};
\draw[black, line width=0.5bp] (axis cs:1165.2,0.0502) -- (axis cs:1217.1,0.0487);
\node[anchor=east, inner sep=0pt, font=\annfont] at (axis cs:1153.7,0.0502) {rs9365166};
\draw[black, line width=0.5bp] (axis cs:2519.6,-0.0755) -- (axis cs:2468.9,-0.0493);
\node[anchor=west, inner sep=0pt, font=\annfont] at (axis cs:2533.5,-0.0791) {rs3764261};
% legend
\addlegendimage{mark=ptv, black, mark options={line width=0.7bp}}\addlegendentry{PTVs}
\addlegendimage{mark=pcv, black, mark options={line width=0.7bp}}\addlegendentry{PCVs}
\addlegendimage{mark=utr, black, mark options={line width=0.7bp}}\addlegendentry{UTR}
\addlegendimage{mark=pav, black, mark options={line width=0.7bp}}\addlegendentry{PAVs}
\addlegendimage{mark=intr, black, mark options={line width=0.7bp}}\addlegendentry{Intronic}
\addlegendimage{mark=oth, black, mark options={line width=0.7bp}}\addlegendentry{Others}
\end{axis}
\node[anchor=base west, inner sep=0pt, font=\fontsize{19.2bp}{23bp}\selectfont] at (58.5bp,482.4bp) {iPGS coefficients};
\node[anchor=base west, inner sep=0pt, font=\fontsize{15.87bp}{19bp}\selectfont] at (58.5bp,458.6bp) {INI10023582: Free Chol. to Tot. Lipids in CMs and XXL VLDL \% (truncated)};
\node[anchor=base, inner sep=0pt, font=\fontsize{16bp}{19bp}\selectfont] at (457.35bp,76.8bp) {Genomic position (GRCh37/hg19)};
\node[anchor=base, rotate=90, inner sep=0pt, font=\fontsize{16bp}{19bp}\selectfont] at (19.2bp,279.9bp) {PGS effect size};
\node[anchor=base west, inner sep=0pt, font=\fontsize{16bp}{19bp}\selectfont] at (293.7bp,27.4bp) {Consequence};
\end{tikzpicture}
\end{document}
